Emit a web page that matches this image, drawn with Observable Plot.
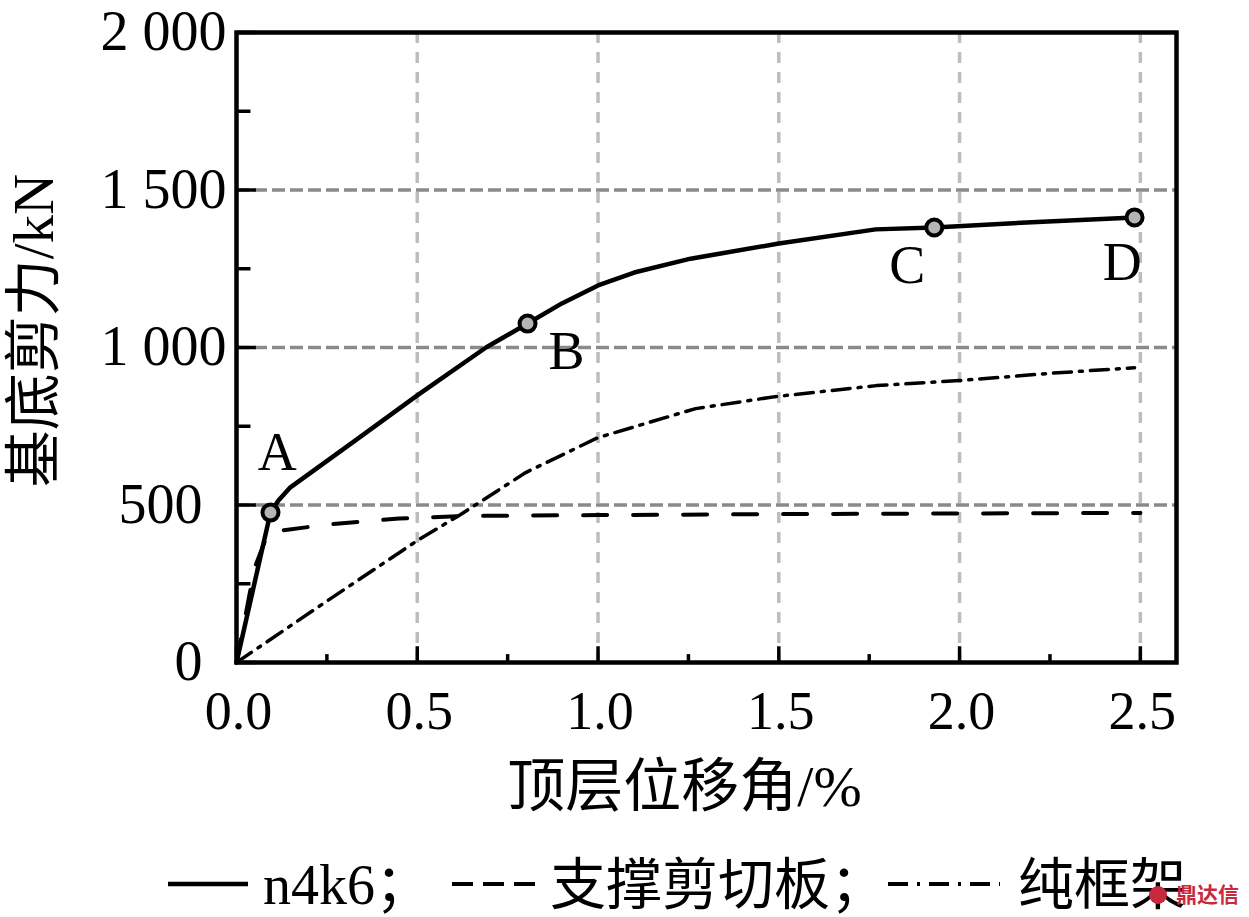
<!DOCTYPE html>
<html>
<head>
<meta charset="utf-8">
<script src="https://cdn.jsdelivr.net/npm/d3@7"></script>
<script src="https://cdn.jsdelivr.net/npm/@observablehq/plot@0.6"></script>
<style>
  html, body { margin: 0; padding: 0; background: #fff; }
  #chart { width: 1249px; }
  #legend { position: relative; width: 1249px; height: 87px; overflow: hidden;
    font-family: "Liberation Serif", "Noto Sans CJK SC", serif; font-size: 56px; color: #000; }
  #legend span { position: absolute; top: 20px; line-height: 70px; white-space: nowrap; }
  #legend svg { position: absolute; left: 0; top: 0; }
</style>
</head>
<body>
<div id="chart"></div>
<div id="legend"></div>
<script>
// curvas
const n4k6X = [0, 0.094, 0.116, 0.149, 0.329, 0.5, 0.69, 0.805, 0.9, 1.0, 1.1, 1.256, 1.5, 1.768, 1.93, 2.2, 2.484]
const n4k6Y = [0, 476, 514, 556, 705, 848, 1000, 1076, 1140, 1197, 1238, 1282, 1330, 1375, 1381, 1398, 1413]
const braceX = [0, 0.05, 0.088, 0.25, 0.45, 0.62, 1.0, 1.5, 2.0, 2.5]
const braceY = [0, 300, 413, 438, 457, 465, 468, 471, 473, 475]
const frameX = [0, 0.25, 0.5, 0.62, 0.8, 1.0, 1.27, 1.49, 1.77, 2.0, 2.25, 2.484]
const frameY = [0, 195, 387, 470, 603, 714, 806, 844, 879, 895, 918, 936]

const pointX = [0.094, 0.805, 1.93, 2.484]
const pointY = [476, 1076, 1381, 1413]
const pointNames = ['A', 'B', 'C', 'D']
const nameX = [0.113, 0.913, 1.855, 2.45]
const nameY = [667, 987, 1260, 1270]

const xTicks = [0, 0.5, 1, 1.5, 2, 2.5]
const xMinor = [0.25, 0.75, 1.25, 1.75, 2.25]
const xGrid = [0.5, 1, 1.5, 2, 2.5]
const yTicksLow = [0, 500]
const yTicksHigh = [1000, 1500, 2000]
const yTicks = [0, 500, 1000, 1500, 2000]
const yTickLabels = ['0', '500', '1 000', '1 500', '2 000']
const yMinor = [250, 750, 1250, 1750]
const yGrid = [500, 1000, 1500]

const table = (xs, ys) => xs.map((x, i) => ({ x, y: ys[i] }))
const yLabel = d => yTickLabels[yTicks.indexOf(d)]
const serif = '"Liberation Serif", "Noto Sans CJK SC", serif'

const chart = Plot.plot({
  width: 1249,
  height: 830,
  marginLeft: 236,
  marginRight: 73,
  marginTop: 32,
  marginBottom: 168,
  style: { background: '#fff', fontFamily: serif, color: '#000' },
  x: { domain: [0, 2.6] },
  y: { domain: [0, 2000] },
  marks: [
    // rejilla
    Plot.ruleX(xGrid, { stroke: '#bdbdbd', strokeWidth: 3.5, strokeDasharray: '11 9' }),
    Plot.ruleY(yGrid, { stroke: '#8a8a8a', strokeWidth: 3.5, strokeDasharray: '13 5' }),
    // ticks hacia adentro
    Plot.ruleX(xTicks, { y1: 0, y2: 50, stroke: '#000', strokeWidth: 3.5 }),
    Plot.ruleX(xMinor, { y1: 0, y2: 25, stroke: '#000', strokeWidth: 3.5 }),
    Plot.ruleY(yTicks, { x1: 0, x2: 0.055, stroke: '#000', strokeWidth: 3.5 }),
    Plot.ruleY(yMinor, { x1: 0, x2: 0.04, stroke: '#000', strokeWidth: 3.5 }),
    Plot.axisX({
      ticks: xTicks, tickSize: 0, tickPadding: 28, fontSize: 54, dx: 2,
      tickFormat: d3.format('.1f'), label: null
    }),
    // 0 y 500 van mas separados del eje
    Plot.axisY({ ticks: yTicksHigh, tickSize: 0, tickPadding: 10, fontSize: 56, tickFormat: yLabel, label: null }),
    Plot.axisY({ ticks: yTicksLow, tickSize: 0, tickPadding: 34, fontSize: 56, tickFormat: yLabel, label: null }),
    Plot.text(['顶层位移角/%'], {
      frameAnchor: 'bottom', dx: -22, dy: 143, fontSize: 58
    }),
    Plot.text(['基底剪力/kN'], {
      frameAnchor: 'left', textAnchor: 'middle', rotate: -90, dx: -202, dy: -17, fontSize: 57
    }),
    Plot.line(table(frameX, frameY), {
      x: 'x', y: 'y', stroke: '#000', strokeWidth: 3.5, strokeDasharray: '18 8 3 8'
    }),
    Plot.line(table(braceX, braceY), {
      x: 'x', y: 'y', stroke: '#000', strokeWidth: 4, strokeDasharray: '24 26'
    }),
    Plot.line(table(n4k6X, n4k6Y), { x: 'x', y: 'y', stroke: '#000', strokeWidth: 4.5 }),
    Plot.dot(table(pointX, pointY), {
      x: 'x', y: 'y', r: 8, fill: '#b5b5b5', stroke: '#000', strokeWidth: 4
    }),
    Plot.text(pointNames, {
      x: nameX, y: nameY, fontSize: 54, fill: '#000'
    }),
    Plot.frame({ stroke: '#000', strokeWidth: 4.5 })
  ]
})
d3.select('#chart').append(() => chart)

// leyenda debajo del svg
const legendItems = [
  { left: 263, text: 'n4k6；' },
  { left: 550, text: '支撑剪切板；' },
  { left: 1018, text: '纯框架' }
]
const legendLines = [
  { x1: 168, x2: 248, width: 4.5, dash: null },
  { x1: 452, x2: 536, width: 4, dash: '21 10' },
  { x1: 888, x2: 1000, width: 4, dash: '20 9 3 9' }
]
const legend = d3.select('#legend')
const legendSvg = legend.append('svg').attr('width', 1249).attr('height', 87)
legendLines.forEach(d => {
  legendSvg.append('line')
    .attr('x1', d.x1).attr('x2', d.x2).attr('y1', 54).attr('y2', 54)
    .attr('stroke', '#000').attr('stroke-width', d.width)
    .attr('stroke-dasharray', d.dash)
})
legendItems.forEach(d => {
  legend.append('span').style('left', d.left + 'px').text(d.text)
})
// marca de agua
legendSvg.raise()
legendSvg.append('circle').attr('cx', 1158).attr('cy', 65).attr('r', 9).attr('fill', '#c62a3c')
legend.append('span')
  .style('left', '1176px').style('top', '48px').style('line-height', '30px')
  .style('font-size', '21px').style('font-weight', '700')
  .style('font-family', '"Noto Sans CJK SC", sans-serif').style('color', '#c62a3c')
  .text('鼎达信')
</script>
</body>
</html>
